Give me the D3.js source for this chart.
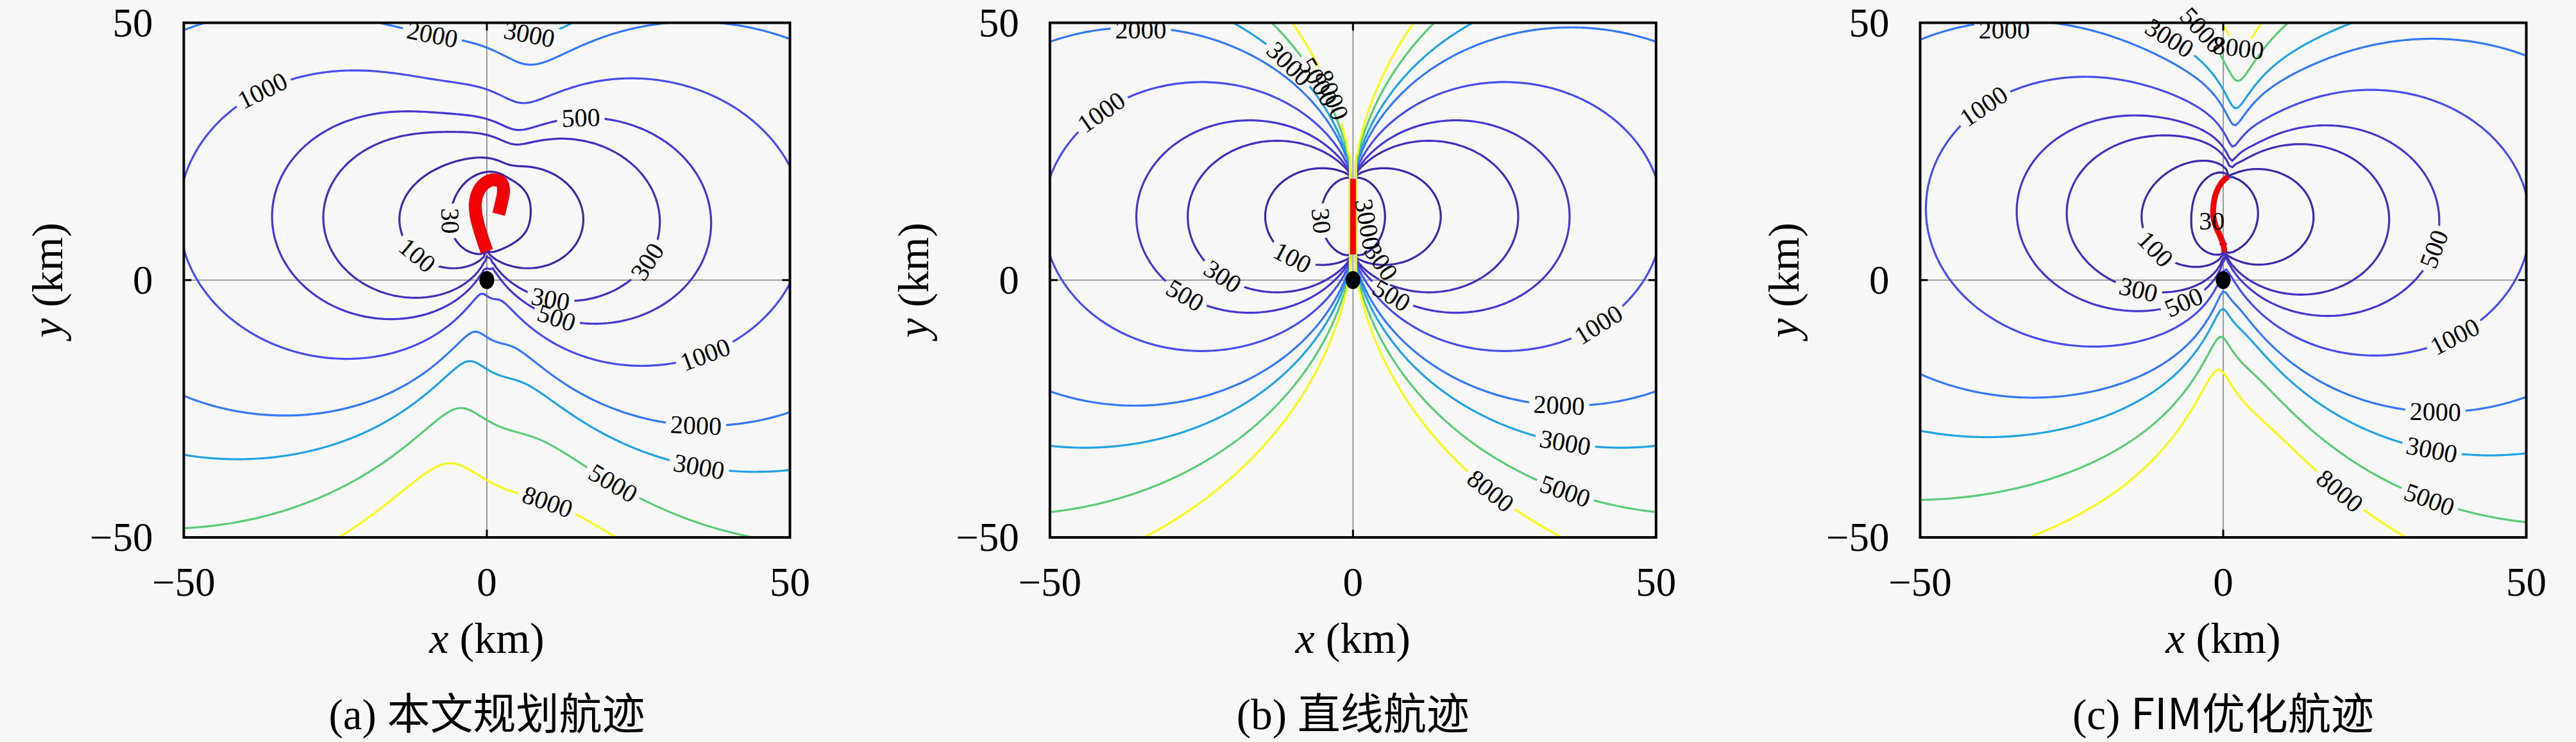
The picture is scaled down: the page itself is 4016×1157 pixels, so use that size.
<!DOCTYPE html>
<html><head><meta charset="utf-8">
<script src="https://cdn.jsdelivr.net/npm/d3@7"></script>
<style>html,body{margin:0;padding:0;background:#f7f7f7;}svg{display:block;}</style>
</head><body>
<svg id="chart" width="4016" height="1157"></svg>
<script>
// ================= DATA =================
const levels = [30, 100, 300, 500, 1000, 2000, 3000, 5000, 8000];
const xTickValues = [-50, 0, 50];
const yTickValues = [-50, 0, 50];
const captionTags = ["(a)", "(b)", "(c)"];
const captionTexts = ["本文规划航迹", "直线航迹", "FIM优化航迹"];
const targetPos = [0, 0];

// observer trajectories (km)
const trackAx = [0.0, -0.7, -1.35, -1.8, -1.9, -1.4, -0.35, 1.15, 2.45, 2.75, 2.4, 1.95];
const trackAy = [5.6, 8.0, 10.5, 12.8, 15.0, 17.2, 18.8, 19.5, 18.9, 17.2, 15.0, 12.8];
const trackBx = [0, 0];
const trackBy = [5.0, 19.7];
const trackCx = [0.2, 0.0, -0.6, -1.3, -1.65, -1.6, -1.15, -0.3, 0.8];
const trackCy = [5.4, 7.0, 8.8, 10.7, 12.5, 14.6, 17.0, 18.9, 20.1];

// contour label anchors: [level, x(km), y(km), angle(deg), snapToLine]
const labelsA = [
  [2000, -9.3, 46.6, 8, 1], [3000, 6.1, 43.4, 30, 1], [1000, -38.9, 40.8, -20, 1],
  [500, 15.7, 33.1, 0, 1], [30, -4.5, 11.4, 75, 1], [100, -10.4, 6.4, 20, 1],
  [300, 26.2, 3.9, -60, 1], [300, 10.6, -2.6, 10, 1], [500, 11.8, -6.2, 15, 1],
  [1000, 36.2, -15.0, -20, 1], [2000, 34.6, -29.0, 0, 1], [3000, 34.6, -37.3, 5, 1],
  [5000, 21.2, -38.6, 35, 1], [8000, 11.0, -39.5, 8, 1]
];
const labelsB = [
  [2000, -35.0, 48.6, 0, 0], [3000, -10.0, 43.0, 40, 1], [5000, -5.4, 38.8, 60, 1],
  [8000, -3.2, 36.0, 65, 1], [1000, -41.6, 33.1, -30, 1], [30, -3.8, 11.7, 70, 1],
  [3000, 2.4, 10.8, 80, 0], [100, -9.0, 6.4, 15, 1], [300, 4.6, 3.5, 55, 0],
  [300, -20.4, 2.5, 20, 1], [500, -26.7, -0.7, 20, 1], [500, 7.5, -0.5, 35, 1],
  [1000, 38.9, -6.2, -35, 1], [2000, 34.2, -21.4, 0, 1], [3000, 35.5, -28.8, 5, 1],
  [5000, 35.9, -38.4, 10, 1], [8000, 24.0, -38.9, 35, 1]
];
const labelsC = [
  [2000, -36.1, 48.6, 0, 0], [3000, -9.9, 44.8, 20, 1], [5000, -4.7, 47.5, 40, 1],
  [8000, 1.1, 42.5, 40, 1], [1000, -40.8, 36.0, -25, 1], [30, -3.1, 12.6, 90, 1],
  [100, -10.1, 7.5, 25, 1], [300, -13.7, 0.6, 0, 1], [500, -7.9, -0.7, -25, 1],
  [500, 33.4, 6.4, -75, 1], [1000, 37.5, -9.5, -25, 1], [2000, 34.8, -23.5, 0, 1],
  [3000, 34.8, -30.6, 5, 1], [5000, 35.0, -40.1, 10, 1], [8000, 21.2, -38.1, 35, 1]
];

// bearing-only (interferometer) localisation model parameters
const bearingSigma = 0.01946;  // rad, at array broadside
const obsStep = 0.1;           // km between bearing measurements
const gridStep = 0.5;          // km

// parula colormap stops
const parulaT = [0, 0.0635, 0.127, 0.19, 0.254, 0.317, 0.381, 0.444, 0.508, 0.571, 0.635, 0.698, 0.762, 0.825, 0.889, 0.952, 1];
const parulaC = ["#3e26a8", "#4537d5", "#484df0", "#4563fc", "#327bfc", "#2b91ef", "#20a5e3", "#08b4d0", "#19bfb6", "#37c897", "#63cd6f", "#9dc943", "#d1bf27", "#f8ba3d", "#fccf30", "#f5e924", "#f9fb15"];

// ================= LAYOUT =================
const W = 4016, H = 1157;
const boxTop = 35.5, boxBottom = 838, boxW = 945;
const panels = [
  {left: 286.5, tx: trackAx, ty: trackAy, labels: labelsA, redW: 20},
  {left: 1636.8, tx: trackBx, ty: trackBy, labels: labelsB, redW: 9},
  {left: 2993.5, tx: trackCx, ty: trackCy, labels: labelsC, redW: 9}
];
const serif = "'Liberation Serif','Times New Roman',serif";
const cjk = "'Noto Sans CJK SC','Noto Sans CJK JP',sans-serif";

const colorScale = d3.scaleLinear().domain(parulaT).range(parulaC).interpolate(d3.interpolateRgb);
const levelColor = v => colorScale((v - levels[0]) / (levels[levels.length - 1] - levels[0]));

const svg = d3.select("#chart");
svg.append("rect").attr("width", W).attr("height", H).attr("fill", "#f7f7f7");
const defs = svg.append("defs");

// uniform Catmull-Rom point
function cr(p0, p1, p2, p3, t) {
  const t2 = t * t, t3 = t2 * t;
  return [0, 1].map(k => 0.5 * (2 * p1[k] + (-p0[k] + p2[k]) * t + (2 * p0[k] - 5 * p1[k] + 4 * p2[k] - p3[k]) * t2 + (-p0[k] + 3 * p1[k] - 3 * p2[k] + p3[k]) * t3));
}

// measurement positions + heading along the flown path
function sampleTrack(xs, ys, step) {
  const P = xs.map((v, i) => [v, ys[i]]);
  const nSeg = P.length - 1;
  const dense = [];
  for (let i = 0; i < nSeg; i++) {
    const p0 = P[Math.max(0, i - 1)], p1 = P[i], p2 = P[i + 1], p3 = P[Math.min(nSeg, i + 2)];
    for (let s = 0; s < 40; s++) dense.push(cr(p0, p1, p2, p3, s / 40));
  }
  dense.push(P[nSeg]);
  const out = [];
  let acc = 0, next = 0;
  for (let i = 0; i < dense.length - 1; i++) {
    const a = dense[i], b = dense[i + 1];
    const len = Math.hypot(b[0] - a[0], b[1] - a[1]);
    if (len === 0) continue;
    const hx = (b[0] - a[0]) / len, hy = (b[1] - a[1]) / len;
    while (next <= acc + len + 1e-9) {
      const f = (next - acc) / len;
      out.push([a[0] + f * (b[0] - a[0]), a[1] + f * (b[1] - a[1]), hx, hy]);
      next += step;
    }
    acc += len;
  }
  return out;
}

function computeField(obs, n, h) {
  const vals = new Array(n * n);
  const m = obs.length;
  for (let j = 0; j < n; j++) {
    const y = 50 - j * h;
    for (let i = 0; i < n; i++) {
      const x = -50 + i * h;
      let a = 0, b = 0, c = 0;
      for (let k = 0; k < m; k++) {
        const o = obs[k];
        const dx = x - o[0], dy = y - o[1];
        const r2 = dx * dx + dy * dy;
        if (r2 < 1e-9) continue;
        const cross = o[2] * dy - o[3] * dx;
        const w = cross * cross / (r2 * r2 * r2);
        a += dy * dy * w; b += dx * dx * w; c -= dx * dy * w;
      }
      const det = a * b - c * c;
      let v;
      if (!(det > 1e-12 * (a + b) * (a + b))) v = 1e7;
      else v = 1000 * bearingSigma * Math.sqrt((a + b) / det);
      vals[j * n + i] = Math.min(v, 1e7);
    }
  }
  return vals;
}

function ringToLines(ring, n) {
  const onB = p => p[0] <= 0 || p[0] >= n || p[1] <= 0 || p[1] >= n;
  const pts = ring.slice();
  const f = pts[0], l = pts[pts.length - 1];
  if (f[0] !== l[0] || f[1] !== l[1]) pts.push(f);
  const m = pts.length - 1;
  const bad = i => onB(pts[i]) && onB(pts[i + 1]);
  let start = -1;
  for (let i = 0; i < m; i++) if (bad(i)) { start = i; break; }
  if (start < 0) return [pts];
  const lines = [];
  let cur = null;
  for (let k = 1; k <= m; k++) {
    const i = (start + k) % m;
    if (bad(i)) { if (cur) { lines.push(cur); cur = null; } }
    else { if (!cur) cur = [pts[i]]; cur.push(pts[i + 1]); }
  }
  if (cur) lines.push(cur);
  return lines;
}

const n = Math.round(100 / gridStep) + 1;

panels.forEach((p, pi) => {
  const x = d3.scaleLinear().domain([-50, 50]).range([p.left, p.left + boxW]);
  const y = d3.scaleLinear().domain([-50, 50]).range([boxBottom, boxTop]);
  const gxToKm = gx => -50 + (gx - 0.5) * gridStep;
  const gyToKm = gy => 50 - (gy - 0.5) * gridStep;

  const g = svg.append("g");
  const clipId = "clip" + pi;
  defs.append("clipPath").attr("id", clipId).append("rect")
    .attr("x", p.left).attr("y", boxTop).attr("width", boxW).attr("height", boxBottom - boxTop);

  g.append("line").attr("x1", x(0)).attr("x2", x(0)).attr("y1", y(-50)).attr("y2", y(50))
    .attr("stroke", "#9a9a9a").attr("stroke-width", 2);
  g.append("line").attr("x1", x(-50)).attr("x2", x(50)).attr("y1", y(0)).attr("y2", y(0))
    .attr("stroke", "#9a9a9a").attr("stroke-width", 2);

  const obs = sampleTrack(p.tx, p.ty, obsStep);
  const vals = computeField(obs, n, gridStep);
  const cs = d3.contours().size([n, n]).thresholds(levels)(vals);

  const lineGen = d3.line().x(d => x(gxToKm(d[0]))).y(d => y(gyToKm(d[1])));
  const cg = g.append("g").attr("clip-path", `url(#${clipId})`);

  const levelLines = {};
  cs.forEach(c => {
    const lines = [];
    c.coordinates.forEach(poly => poly.forEach(ring => ringToLines(ring, n).forEach(ln => lines.push(ln))));
    levelLines[c.value] = lines;
  });

  const placed = [];
  p.labels.forEach(lb => {
    const [lv, lx, ly, ang, snap] = lb;
    let px = x(lx), py = y(ly), a = ang;
    if (snap && levelLines[lv]) {
      let best = null, bd = Infinity;
      levelLines[lv].forEach(ln => {
        for (let i = 0; i < ln.length; i++) {
          const sx = x(gxToKm(ln[i][0])), sy = y(gyToKm(ln[i][1]));
          const d = (sx - px) ** 2 + (sy - py) ** 2;
          if (d < bd) { bd = d; best = {ln, i}; }
        }
      });
      if (best && bd < 70 * 70) {
        const ln = best.ln, i = best.i;
        const i0 = Math.max(0, i - 2), i1 = Math.min(ln.length - 1, i + 2);
        const ax = x(gxToKm(ln[i0][0])), ay = y(gyToKm(ln[i0][1]));
        const bx = x(gxToKm(ln[i1][0])), by = y(gyToKm(ln[i1][1]));
        px = x(gxToKm(ln[i][0])); py = y(gyToKm(ln[i][1]));
        a = Math.atan2(by - ay, bx - ax) * 180 / Math.PI;
        if (a > 90) a -= 180;
        if (a < -90) a += 180;
      }
    }
    placed.push({lv, px, py, a, txt: String(lv)});
  });

  cs.forEach((c, li) => {
    const maskId = `m${pi}_${li}`;
    const mask = defs.append("mask").attr("id", maskId).attr("maskUnits", "userSpaceOnUse")
      .attr("x", 0).attr("y", 0).attr("width", W).attr("height", H);
    mask.append("rect").attr("x", 0).attr("y", 0).attr("width", W).attr("height", H).attr("fill", "white");
    placed.filter(q => q.lv === c.value).forEach(q => {
      const wRect = q.txt.length * 20 + 14, hRect = 34;
      mask.append("rect").attr("x", -wRect / 2).attr("y", -hRect / 2).attr("width", wRect).attr("height", hRect)
        .attr("fill", "black").attr("transform", `translate(${q.px},${q.py}) rotate(${q.a})`);
    });
    const lg = cg.append("g").attr("mask", `url(#${maskId})`);
    levelLines[c.value].forEach(ln => {
      lg.append("path").attr("d", lineGen(ln)).attr("fill", "none")
        .attr("stroke", levelColor(c.value)).attr("stroke-width", 3.2)
        .attr("stroke-linejoin", "round").attr("stroke-linecap", "round");
    });
  });

  const trk = p.tx.map((v, i) => [v, p.ty[i]]);
  g.append("path").attr("d", d3.line().x(d => x(d[0])).y(d => y(d[1])).curve(d3.curveCatmullRom.alpha(0))(trk))
    .attr("fill", "none").attr("stroke", "#f00000").attr("stroke-width", p.redW).attr("stroke-linecap", "butt")
    .attr("stroke-linejoin", "round");

  g.append("ellipse").attr("cx", x(targetPos[0])).attr("cy", y(targetPos[1])).attr("rx", 11.5).attr("ry", 14)
    .attr("fill", "#000");

  g.append("rect").attr("x", p.left).attr("y", boxTop).attr("width", boxW).attr("height", boxBottom - boxTop)
    .attr("fill", "none").attr("stroke", "#000").attr("stroke-width", 4);
  xTickValues.forEach(t => {
    g.append("line").attr("x1", x(t)).attr("x2", x(t)).attr("y1", boxBottom).attr("y2", boxBottom - 12).attr("stroke", "#000").attr("stroke-width", 3);
    g.append("line").attr("x1", x(t)).attr("x2", x(t)).attr("y1", boxTop).attr("y2", boxTop + 12).attr("stroke", "#000").attr("stroke-width", 3);
  });
  yTickValues.forEach(t => {
    g.append("line").attr("x1", p.left).attr("x2", p.left + 12).attr("y1", y(t)).attr("y2", y(t)).attr("stroke", "#000").attr("stroke-width", 3);
    g.append("line").attr("x1", p.left + boxW).attr("x2", p.left + boxW - 12).attr("y1", y(t)).attr("y2", y(t)).attr("stroke", "#000").attr("stroke-width", 3);
  });

  placed.forEach(q => {
    g.append("text").attr("transform", `translate(${q.px},${q.py}) rotate(${q.a})`)
      .attr("text-anchor", "middle").attr("dy", "0.33em")
      .attr("font-family", serif).attr("font-size", 40).attr("fill", "#000").text(q.txt);
  });

  const fmt = t => (t < 0 ? "\u2212" : "") + Math.abs(t);
  xTickValues.forEach(t => {
    g.append("text").attr("x", x(t)).attr("y", 929).attr("text-anchor", "middle")
      .attr("font-family", serif).attr("font-size", 63).text(fmt(t));
  });
  yTickValues.forEach(t => {
    g.append("text").attr("x", p.left - 48).attr("y", y(t) + 21).attr("text-anchor", "end")
      .attr("font-family", serif).attr("font-size", 63).text(fmt(t));
  });

  const cx = p.left + boxW / 2;
  const xl = g.append("text").attr("x", cx).attr("y", 1018).attr("text-anchor", "middle")
    .attr("font-family", serif).attr("font-size", 68);
  xl.append("tspan").attr("font-style", "italic").text("x");
  xl.append("tspan").text(" (km)");
  const yl = g.append("text").attr("transform", `translate(${p.left - 190},${(boxTop + boxBottom) / 2}) rotate(-90)`)
    .attr("text-anchor", "middle").attr("font-family", serif).attr("font-size", 68);
  yl.append("tspan").attr("font-style", "italic").text("y");
  yl.append("tspan").text(" (km)");

  const cap = g.append("text").attr("x", cx).attr("y", 1137).attr("text-anchor", "middle").attr("font-size", 67);
  cap.append("tspan").attr("font-family", serif).text(captionTags[pi] + " ");
  cap.append("tspan").attr("font-family", cjk).text(captionTexts[pi]);
});
</script>
</body></html>
